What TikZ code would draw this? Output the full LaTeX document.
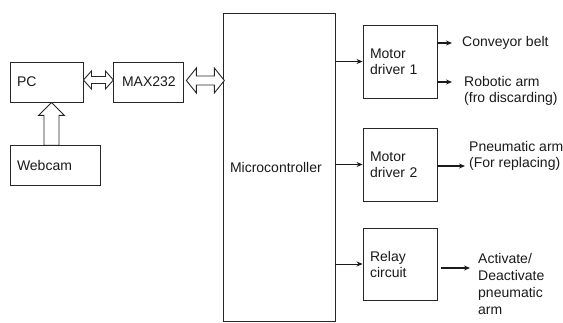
\documentclass[tikz,border=0pt]{standalone}
\usepackage{fontspec}
\setmainfont{Liberation Sans}
\usetikzlibrary{positioning,arrows.meta,calc}
\definecolor{edge}{HTML}{262626}
\definecolor{ink} {HTML}{1A1A1A}
\newcommand{\dfont}{\fontsize{14}{16}\selectfont}
\tikzset{
  blk/.style  ={draw=edge, line width=0.9pt, fill=white, align=left,
                inner xsep=7pt, inner ysep=0pt, font=\dfont, text=ink},
  outtxt/.style={font=\dfont, text=ink, align=left, inner sep=0pt},
  ar/.style   ={-{Stealth[length=6pt,width=5pt]}, draw=ink, line width=1.3pt},
  art/.style  ={-{Stealth[length=6pt,width=5pt]}, draw=ink, line width=0.7pt},
  hol/.style  ={draw=edge, line width=0.9pt, fill=white, line join=miter}
}

\begin{document}
\begin{tikzpicture}[x=1pt, y=1pt]
\useasboundingbox (0,0) rectangle (563,322);

% left part
\node[blk, text width=59pt, minimum height=40pt] (pc) at (46.5,240) {PC};
\node[blk, below=43pt of pc.south west, anchor=north west,
      text width=76pt, minimum height=40pt] (cam) {Webcam};
\node[blk, right=30pt of pc, align=center, text width=56pt,
      minimum height=40pt] (max) {MAX232};

% controller and drivers
\node[blk, text width=98pt, minimum height=308pt] (mcu) at (279,155)
  {Microcontroller};
\node[blk, text width=60pt, minimum height=73pt] (md1) at (400,260.5)
  {Motor\\driver 1};
\node[blk, text width=60pt, minimum height=73pt] (md2) at (400,157.5)
  {Motor\\driver 2};
\node[blk, text width=60pt, minimum height=72pt] (rly) at (400,58)
  {Relay\\circuit};

% outputs
\node[outtxt, anchor=west] (belt) at (462,279) {Conveyor belt};
\node[outtxt, anchor=north west] (robot) at (464,246)
  {Robotic arm\\(fro discarding)};
\node[outtxt, anchor=north west] (pneu) at (469,181)
  {Pneumatic arm\\(For replacing)};
\node[outtxt, anchor=north west, font=\fontsize{14}{17}\selectfont] (act)
  at (478,69) {Activate/\\Deactivate\\pneumatic\\arm};
\coordinate (robotin) at ([xshift=-12pt,yshift=-6pt]robot.north west);
\coordinate (pneuin)  at ([xshift=-4pt,yshift=-25pt]pneu.north west);
\coordinate (actin)   at ([xshift=-8pt,yshift=-15pt]act.north west);

% hollow block arrows
\draw[hol] (pc.east) ++(0,2) -- ++(8,9) -- ++(0,-5.5) -- ++(14,0)
  -- ++(0,5.5) -- ++(8,-9) -- ++(-8,-9) -- ++(0,5.5) -- ++(-14,0)
  -- ++(0,-5.5) -- cycle;
\draw[hol] (max.east) ++(2,1.5) -- ++(10,12.5) -- ++(0,-8) -- ++(18,0)
  -- ++(0,8) -- ++(10,-12.5) -- ++(-10,-12.5) -- ++(0,8) -- ++(-18,0)
  -- ++(0,-8) -- cycle;
\draw[hol] (pc.south) ++(5,0) -- ++(-13,-13) -- ++(5.5,0) -- ++(0,-30)
  -- ++(15,0) -- ++(0,30) -- ++(5.5,0) -- cycle;

% signal arrows
\draw[ar]  (mcu.east |- md1.west) -- (md1.west);
\draw[ar]  (mcu.east |- md2.west) -- (md2.west);
\draw[art] (mcu.east |- rly.west) -- (rly.west);
\draw[ar]  (md1.east |- belt.west) -- ([xshift=-10pt]belt.west);
\draw[ar]  (md1.east |- robotin) -- (robotin);
\draw[ar]  (md2.east |- pneuin) -- (pneuin);
\draw[ar]  ([xshift=4pt]rly.east |- actin) -- (actin);
\end{tikzpicture}
\end{document}
